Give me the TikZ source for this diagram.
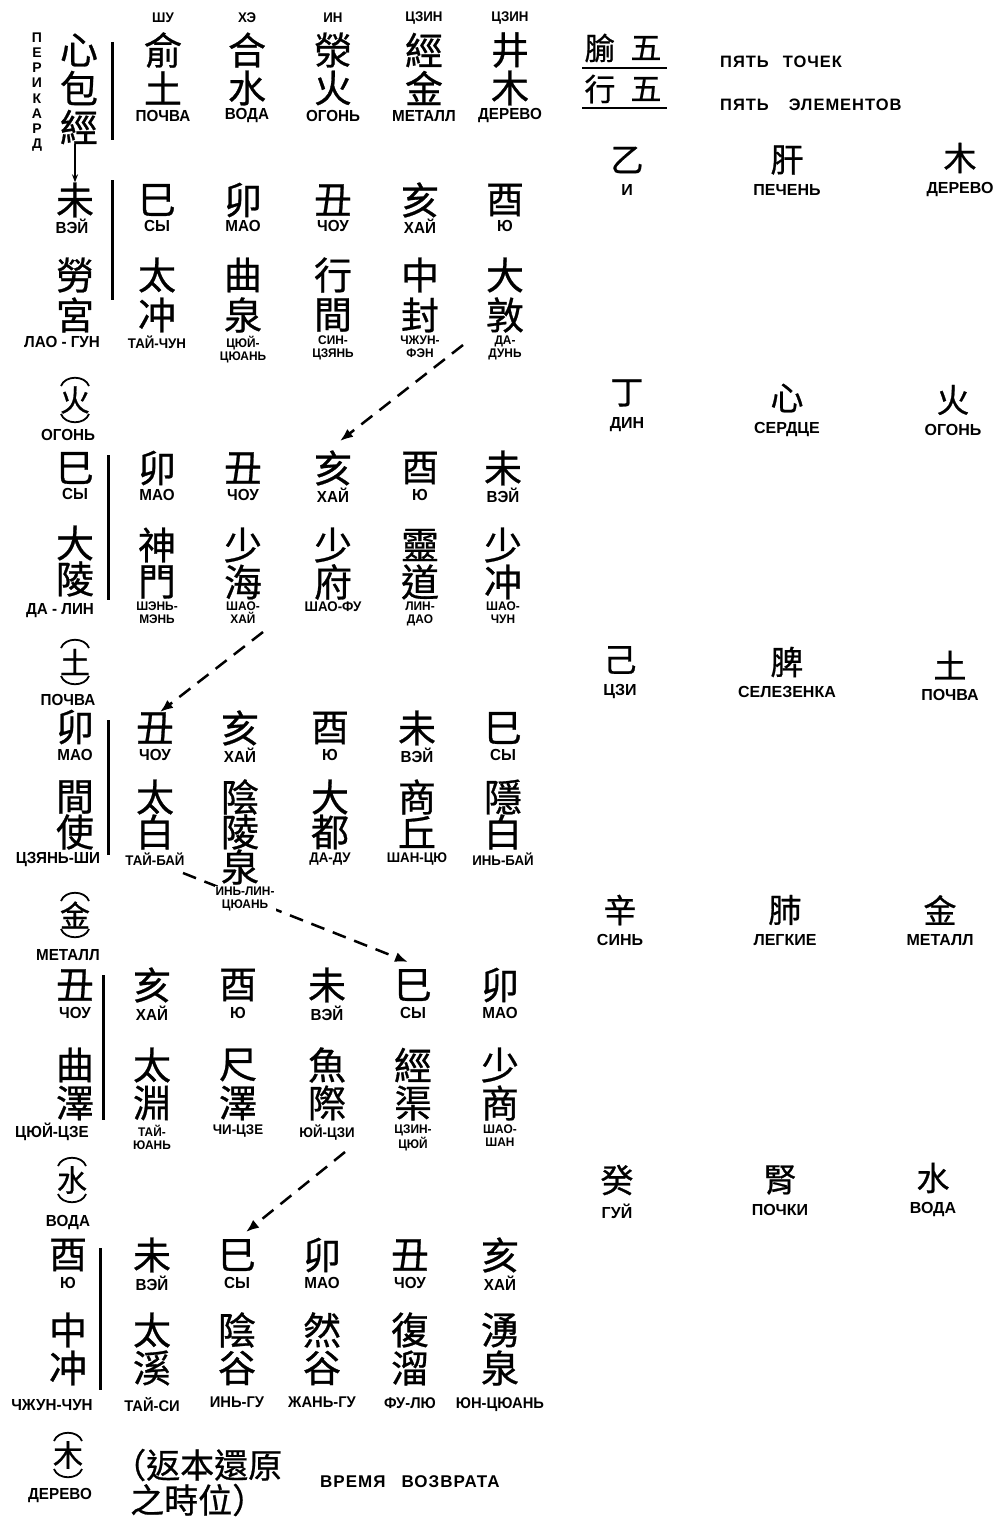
\documentclass[tikz,border=0pt]{standalone}
\usepackage{fontspec}
\setmainfont{Liberation Sans}
\newfontfamily\rus[FakeStretch=0.95]{Liberation Sans}
\newfontfamily\rusw{Liberation Sans}
\newfontfamily\rusx[LetterSpace=6]{Liberation Sans}
\newfontfamily\cjk[FakeBold=0.7]{Noto Sans CJK TC}
\usetikzlibrary{arrows.meta,calc}
\newcommand{\elemnode}[4]{%
  \node[ech] (#1) at (#2,#3) {#4};
  \draw[brk] ($(#1.center)+(-14,-14)$) .. controls +(4,-11) and +(-4,-11) .. ($(#1.center)+(14,-14)$);
  \draw[brk] ($(#1.center)+(-14,14)$) .. controls +(4,11) and +(-4,11) .. ($(#1.center)+(14,14)$);
}
\newcommand{\tblock}[7]{%
  \foreach \x/\an/\al/\pa/\pb/\pl/\ps [count=\i] in {#7}{%
    \node[ch] (#1a\i) at (\x,#2) {\an};
    \node[lb] (#1b\i) at (\x,#3) {\al};
    \node[ch] (#1c\i) at (\x,#4) {\pa};
    \node[ch] (#1d\i) at (\x,#5) {\pb};
    \node[\ps, anchor=north] (#1e\i) at (\x,#6) {\pl};
  }}
\begin{document}
\begin{tikzpicture}[x=1pt,y=-1pt,
  ch/.style={font=\cjk\fontsize{38}{38}\selectfont, inner sep=0pt},
  rch/.style={font=\cjk\fontsize{33}{33}\selectfont, inner sep=0pt},
  ech/.style={font=\cjk\fontsize{30}{30}\selectfont, inner sep=0pt},
  hch/.style={font=\cjk\fontsize{31}{31}\selectfont, inner sep=0pt},
  cjtext/.style={font=\cjk\fontsize{34}{34}\selectfont, inner sep=0pt, anchor=west},
  lb/.style={font=\rus\bfseries\fontsize{16}{16}\selectfont, inner sep=0pt, align=center},
  pa/.style={font=\rus\bfseries\fontsize{14}{14}\selectfont, inner sep=0pt, align=center},
  pb/.style={font=\rus\bfseries\fontsize{12.5}{12.5}\selectfont, inner sep=0pt, align=center},
  pc/.style={font=\rus\bfseries\fontsize{15.5}{15.5}\selectfont, inner sep=0pt, align=center},
  rom/.style={font=\rus\bfseries\fontsize{14}{14}\selectfont, inner sep=0pt},
  vert/.style={font=\rusw\bfseries\fontsize{14}{15.2}\selectfont, inner sep=0pt, align=center},
  rl/.style={font=\rusw\bfseries\fontsize{16}{16}\selectfont, inner sep=0pt},
  big/.style={font=\rusx\bfseries\fontsize{16.5}{16.5}\selectfont, inner sep=0pt, anchor=west},
  bar/.style={line width=3pt},
  brk/.style={line width=1.8pt},
  uline/.style={line width=2pt},
  dasharrow/.style={line width=2.5pt, dash pattern=on 14pt off 9pt, -{Latex[length=13pt,width=10pt]}},
  thinarrow/.style={line width=1.4pt, -{Stealth[length=8pt,width=6pt]}}
]
\fill[white] (0,0) rectangle (1000,1520);
\useasboundingbox (0,0) rectangle (1000,1520);

% ---------- header block ----------
\node[vert] (per) at (37,92) {П\\Е\\Р\\И\\К\\А\\Р\\Д};
\node[ch] (L0a) at (79,50) {心};
\node[ch] (L0b) at (79,88) {包};
\node[ch] (L0c) at (79,127) {經};
\draw[bar] (112,42) -- (112,140);
\foreach \x/\r/\a/\b/\l [count=\i] in {163/ШУ/俞/土/ПОЧВА, 247/ХЭ/合/水/ВОДА, 333/ИН/滎/火/ОГОНЬ, 424/ЦЗИН/經/金/МЕТАЛЛ, 510/ЦЗИН/井/木/ДЕРЕВО}{%
  \node[rom] (h\i) at (\x,18) {\r};
  \node[ch] (t\i) at (\x,50) {\a};
  \node[ch] (u\i) at (\x,88) {\b};
  \node[lb] (v\i) at (\x,116) {\l};
}

% header right
\node[hch] (hr1) at (600,48) {腧};
\node[hch] (hr2) at (646,48) {五};
\node[hch] (hr3) at (600,89) {行};
\node[hch] (hr4) at (646,89) {五};
\draw[uline] (582,68) -- (667,68);
\draw[uline] (582,108) -- (667,108);
\node[big] (pt1) at (720,62) {ПЯТЬ\hspace{14pt}ТОЧЕК};
\node[big] (pt2) at (720,105) {ПЯТЬ\hspace{20pt}ЭЛЕМЕНТОВ};

% ---------- block 1 ----------
\node[ch] (L1a) at (75,200) {未};
\node[lb] (L1b) at (72,226) {ВЭЙ};
\node[ch] (L1c) at (75,275) {勞};
\node[ch] (L1d) at (75,315) {宮};
\node[lb] (L1e) at (62,342) {ЛАО - ГУН};
\draw[bar] (112,180) -- (112,300);
\elemnode{E1}{75}{400}{火}
\node[lb] (E1l) at (68,435) {ОГОНЬ};
\tblock{Ba}{200}{226}{275}{315}{336}{157/巳/СЫ/太/冲/ТАЙ-ЧУН/pa, 243/卯/МАО/曲/泉/ЦЮЙ-\\ЦЮАНЬ/pb, 333/丑/ЧОУ/行/間/СИН-\\ЦЗЯНЬ/pb, 420/亥/ХАЙ/中/封/ЧЖУН-\\ФЭН/pb, 505/酉/Ю/大/敦/ДА-\\ДУНЬ/pb}

% ---------- block 2 ----------
\node[ch] (L2a) at (75,468) {巳};
\node[lb] (L2b) at (75,494) {СЫ};
\node[ch] (L2c) at (75,543) {大};
\node[ch] (L2d) at (75,579) {陵};
\node[lb] (L2e) at (60,611) {ДА - ЛИН};
\draw[bar] (108,455) -- (108,600);
\elemnode{E2}{75}{662}{土}
\node[lb] (E2l) at (68,700) {ПОЧВА};
\tblock{Bb}{468}{495}{545}{582}{602}{157/卯/МАО/神/門/ШЭНЬ-\\МЭНЬ/pb, 243/丑/ЧОУ/少/海/ШАО-\\ХАЙ/pb, 333/亥/ХАЙ/少/府/ШАО-ФУ/pa, 420/酉/Ю/靈/道/ЛИН-\\ДАО/pb, 503/未/ВЭЙ/少/冲/ШАО-\\ЧУН/pb}

% ---------- block 3 ----------
\node[ch] (L3a) at (75,727) {卯};
\node[lb] (L3b) at (75,755) {МАО};
\node[ch] (L3c) at (75,797) {間};
\node[ch] (L3d) at (75,832) {使};
\node[lb] (L3e) at (58,860) {ЦЗЯНЬ-ШИ};
\draw[bar] (108,720) -- (108,855);
\elemnode{E3}{75}{915}{金}
\node[lb] (E3l) at (68,955) {МЕТАЛЛ};
\tblock{Bc}{728}{755}{797}{832}{853}{155/丑/ЧОУ/太/白/ТАЙ-БАЙ/pa, 240/亥/ХАЙ/陰/陵/{}/pa, 330/酉/Ю/大/都/ДА-ДУ/pa, 417/未/ВЭЙ/商/丘/ШАН-ЦЮ/pa, 503/巳/СЫ/隱/白/ИНЬ-БАЙ/pa}
\node[ch] (Bcf2) at (240,867) {泉};

% ---------- block 4 ----------
\node[ch] (L4a) at (75,985) {丑};
\node[lb] (L4b) at (75,1013) {ЧОУ};
\node[ch] (L4c) at (75,1065) {曲};
\node[ch] (L4d) at (75,1103) {澤};
\node[lb] (L4e) at (52,1132) {ЦЮЙ-ЦЗЕ};
\draw[bar] (103,975) -- (103,1120);
\elemnode{E4}{72}{1180}{水}
\node[lb] (E4l) at (68,1222) {ВОДА};
\tblock{Bd}{985}{1013}{1065}{1103}{1125}{152/亥/ХАЙ/太/淵/ТАЙ-\\ЮАНЬ/pb, 238/酉/Ю/尺/澤/ЧИ-ЦЗЕ/pa, 327/未/ВЭЙ/魚/際/ЮЙ-ЦЗИ/pa, 413/巳/СЫ/經/渠/ЦЗИН-\\ЦЮЙ/pb, 500/卯/МАО/少/商/ШАО-\\ШАН/pb}

% ---------- block 5 ----------
\node[ch] (L5a) at (68,1255) {酉};
\node[lb] (L5b) at (68,1283) {Ю};
\node[ch] (L5c) at (68,1330) {中};
\node[ch] (L5d) at (68,1368) {冲};
\node[lb] (L5e) at (52,1405) {ЧЖУН-ЧУН};
\draw[bar] (100,1248) -- (100,1390);
\elemnode{E5}{68}{1455}{木}
\node[lb] (E5l) at (60,1495) {ДЕРЕВО};
\tblock{Be}{1255}{1283}{1330}{1368}{1397}{152/未/ВЭЙ/太/溪/ТАЙ-СИ/pc, 237/巳/СЫ/陰/谷/ИНЬ-ГУ/pc, 322/卯/МАО/然/谷/ЖАНЬ-ГУ/pc, 410/丑/ЧОУ/復/溜/ФУ-ЛЮ/pc, 500/亥/ХАЙ/湧/泉/ЮН-ЦЮАНЬ/pc}
\node[cjtext] (ret1) at (112,1465) {（返本還原};
\node[cjtext] (ret2) at (130,1500) {之時位）};
\node[big, font=\rusx\bfseries\fontsize{17}{17}\selectfont] (ret3) at (320,1482) {ВРЕМЯ\hspace{16pt}ВОЗВРАТА};

% ---------- right columns ----------
\foreach \x/\y/\c/\l [count=\i] in {
  627/160/乙/И, 787/160/肝/ПЕЧЕНЬ, 960/158/木/ДЕРЕВО,
  627/393/丁/ДИН, 787/398/心/СЕРДЦЕ, 953/400/火/ОГОНЬ,
  620/660/己/ЦЗИ, 787/662/脾/СЕЛЕЗЕНКА, 950/665/土/ПОЧВА,
  620/910/辛/СИНЬ, 785/910/肺/ЛЕГКИЕ, 940/910/金/МЕТАЛЛ,
  617/1180/癸/ГУЙ, 780/1180/腎/ПОЧКИ, 933/1178/水/ВОДА}{%
  \node[rch] (R\i) at (\x,\y) {\c};
  \node[rl, anchor=north] (RL\i) at (\x,\y+24) {\l};
}

% ---------- connectors ----------
\draw[thinarrow] (L0c.south -| L1a.north) -- (L1a.north);
\coordinate (s1) at (463,345);
\coordinate (e1) at (340,441);
\draw[dasharrow] (s1) -- (e1);
\coordinate (s2) at (263,632);
\coordinate (e2) at (160,712);
\draw[dasharrow] (s2) -- (e2);
\coordinate (s3) at (183,873);
\coordinate (e3) at (408,962);
\draw[dasharrow] (s3) -- (e3);
\node[pb, anchor=north, fill=white, inner sep=1pt] (Bcg2) at (245,886) {ИНЬ-ЛИН-\\ЦЮАНЬ};
\coordinate (s4) at (345,1152);
\coordinate (e4) at (246,1232);
\draw[dasharrow] (s4) -- (e4);
\end{tikzpicture}
\end{document}
